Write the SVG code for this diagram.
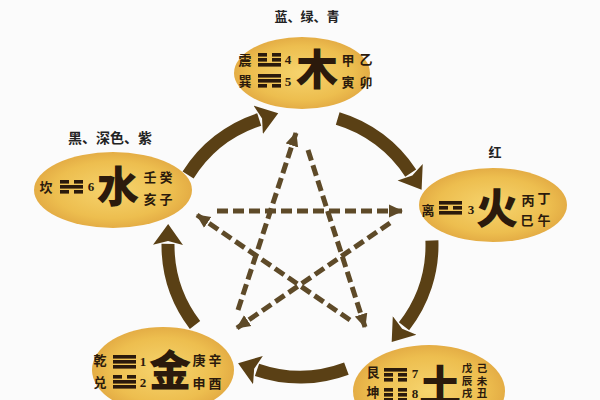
<svg xmlns="http://www.w3.org/2000/svg" xmlns:xlink="http://www.w3.org/1999/xlink" width="600" height="400" viewBox="0 0 600 400">
<style>
.cn{font-family:"Noto Sans CJK SC","Noto Sans CJK TC",sans-serif;font-weight:bold;fill:#2b1a0c;text-anchor:middle}
.big{font-size:42px;font-weight:900}
.sm{font-size:13px}
.xs{font-size:10.5px}
.lb{font-size:13px;fill:#222}
.num{font-family:"Liberation Serif",serif;font-weight:bold;font-size:13px;fill:#2b1a0c;text-anchor:middle}
.node{fill:url(#gold)}
.tg{fill:#2b1a0c}
.arc{fill:none;stroke:#5a4015;stroke-width:13;marker-end:url(#bigHead)}
.dash{fill:none;stroke:#5e4a28;stroke-width:5;stroke-dasharray:11 5;marker-end:url(#smallHead)}
</style>
<defs>
<radialGradient id="gold" cx="50%" cy="50%" r="50%">
<stop offset="0%" stop-color="#f6d46e"/>
<stop offset="75%" stop-color="#edbe4f"/>
<stop offset="100%" stop-color="#e4ad45"/>
</radialGradient>
<marker id="bigHead" markerUnits="userSpaceOnUse" viewBox="0 -16 22 32" markerWidth="22" markerHeight="32" refX="1" refY="0" orient="auto">
<path d="M0,-15 L21,0 L0,15 L4,0 z" fill="#5a4015"/>
</marker>
<marker id="smallHead" markerUnits="userSpaceOnUse" viewBox="0 -7 14 14" markerWidth="14" markerHeight="14" refX="13" refY="0" orient="auto">
<path d="M0,-6.5 L14,0 L0,6.5 z" fill="#5e4a28"/>
</marker>
<rect id="s" width="23" height="3.6"/>
<g id="b"><rect width="9" height="3.6"/><rect x="14" width="9" height="3.6"/></g>
</defs>
<rect width="600" height="400" fill="#fbfbfb"/>

<g id="connectors">
<path class="arc" d="M188.1,175 A132,132 0 0 1 259.2,119.5"/>
<path class="arc" d="M337.7,118.5 A132,132 0 0 1 410.7,173.1"/>
<path class="arc" d="M431.9,240.4 A132,132 0 0 1 404,326.3"/>
<path class="arc" d="M346.4,368.6 A132,132 0 0 1 257,369.8"/>
<path class="arc" d="M195,325 A132,132 0 0 1 168,243.9"/>
<path class="dash" d="M238,310 L296,133"/>
<path class="dash" d="M308,150 L365,327"/>
<path class="dash" d="M217,211 L402,211"/>
<path class="dash" d="M390,223 L237,328"/>
<path class="dash" d="M350,320 L197,215"/>
</g>

<g id="node-wood">
<ellipse class="node" cx="302" cy="73" rx="68" ry="36"/>
<text class="cn lb" x="307" y="21">蓝、绿、青</text>
<text class="cn sm" x="245" y="65">震</text>
<text class="cn sm" x="245" y="86">巽</text>
<g class="tg" transform="translate(258,53)"><use xlink:href="#b"/><use xlink:href="#b" y="5"/><use xlink:href="#s" y="10"/></g>
<g class="tg" transform="translate(258,74)"><use xlink:href="#s"/><use xlink:href="#s" y="5"/><use xlink:href="#b" y="10"/></g>
<text class="num" x="288" y="64">4</text>
<text class="num" x="288" y="86">5</text>
<text class="cn big" x="317" y="85">木</text>
<text class="cn sm" x="348" y="65">甲</text>
<text class="cn sm" x="366" y="64">乙</text>
<text class="cn sm" x="348" y="87">寅</text>
<text class="cn sm" x="366" y="87">卯</text>
</g>

<g id="node-water">
<ellipse class="node" cx="113" cy="190" rx="79" ry="38"/>
<text class="cn lb" x="110" y="143" style="font-size:14px">黑、深色、紫</text>
<text class="cn sm" x="46" y="192">坎</text>
<g class="tg" transform="translate(60,180)"><use xlink:href="#b"/><use xlink:href="#s" y="5"/><use xlink:href="#b" y="10"/></g>
<text class="num" x="91" y="191">6</text>
<text class="cn big" x="118" y="202">水</text>
<text class="cn sm" x="150" y="182">壬</text>
<text class="cn sm" x="166" y="182">癸</text>
<text class="cn sm" x="150" y="204">亥</text>
<text class="cn sm" x="166" y="204">子</text>
</g>

<g id="node-fire">
<ellipse class="node" cx="493" cy="205" rx="74" ry="37"/>
<text class="cn lb" x="495" y="157">红</text>
<text class="cn sm" x="428" y="215">离</text>
<g class="tg" transform="translate(439,201)"><use xlink:href="#s"/><use xlink:href="#b" y="5"/><use xlink:href="#s" y="10"/></g>
<text class="num" x="471" y="214">3</text>
<text class="cn big" x="497" y="224">火</text>
<text class="cn sm" x="528" y="205">丙</text>
<text class="cn sm" x="544" y="203">丁</text>
<text class="cn sm" x="527" y="225">巳</text>
<text class="cn sm" x="544" y="225">午</text>
</g>

<g id="node-metal">
<ellipse class="node" cx="163" cy="370" rx="71" ry="43"/>
<text class="cn sm" x="100" y="365">乾</text>
<text class="cn sm" x="100" y="387">兑</text>
<g class="tg" transform="translate(113,355)"><use xlink:href="#s"/><use xlink:href="#s" y="5"/><use xlink:href="#s" y="10"/></g>
<g class="tg" transform="translate(113,375)"><use xlink:href="#b"/><use xlink:href="#s" y="5"/><use xlink:href="#s" y="10"/></g>
<text class="num" x="143" y="366">1</text>
<text class="num" x="143" y="387">2</text>
<text class="cn big" x="170" y="386">金</text>
<text class="cn sm" x="199" y="365">庚</text>
<text class="cn sm" x="215" y="365">辛</text>
<text class="cn sm" x="199" y="388">申</text>
<text class="cn sm" x="215" y="388">酉</text>
</g>

<g id="node-earth">
<ellipse class="node" cx="429" cy="391" rx="76" ry="46"/>
<text class="cn sm" x="373" y="377">艮</text>
<text class="cn sm" x="373" y="397">坤</text>
<g class="tg" transform="translate(384,368)"><use xlink:href="#s"/><use xlink:href="#b" y="5"/><use xlink:href="#b" y="10"/></g>
<g class="tg" transform="translate(384,388)"><use xlink:href="#b"/><use xlink:href="#b" y="5"/><use xlink:href="#b" y="10"/></g>
<text class="num" x="415" y="378">7</text>
<text class="num" x="415" y="398">8</text>
<text class="cn big" x="440" y="401">土</text>
<text class="cn xs" x="467" y="372">戊</text>
<text class="cn xs" x="482" y="372">己</text>
<text class="cn xs" x="467" y="384.5">辰</text>
<text class="cn xs" x="482" y="384.5">未</text>
<text class="cn xs" x="467" y="397">戌</text>
<text class="cn xs" x="482" y="397">丑</text>
</g>
</svg>
